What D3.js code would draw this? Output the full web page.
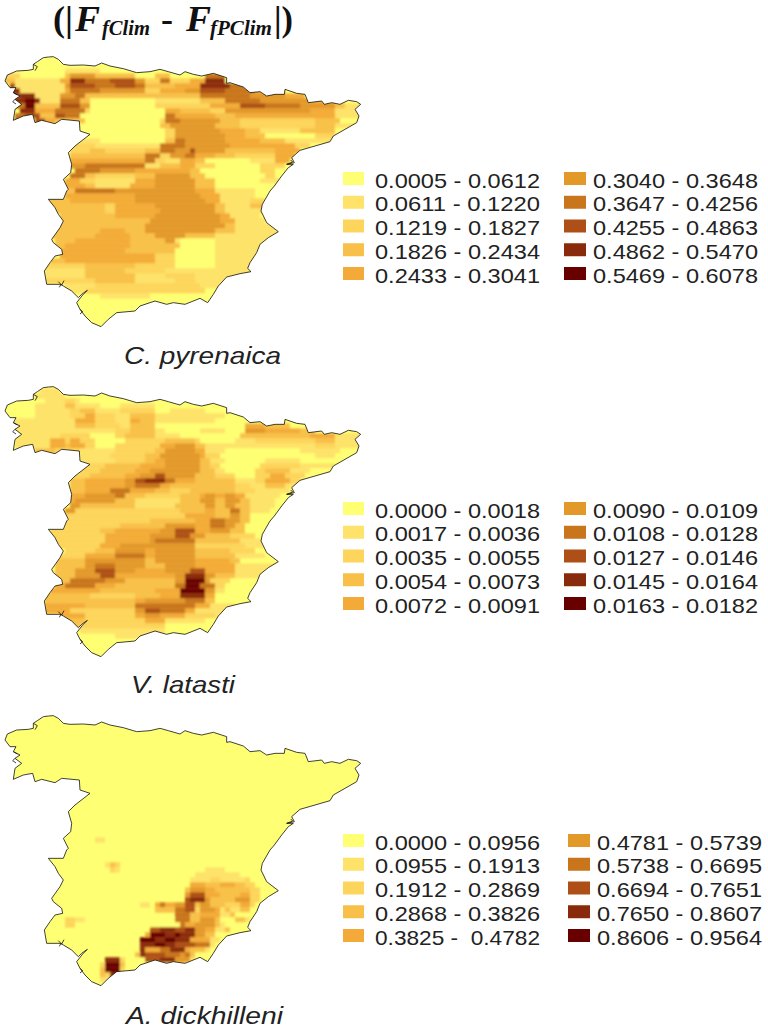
<!DOCTYPE html>
<html>
<head>
<meta charset="utf-8">
<script src="https://cdn.jsdelivr.net/npm/d3@7"></script>
<style>
  html, body { margin: 0; background: #fff; }
  svg { display: block; }
</style>
</head>
<body>
<div id="chart"></div>
<script>
// Class colours, lightest to darkest
const classColors = ["#ffff73", "#fee26a", "#fdd45c", "#f8c04a", "#f3aa38", "#e3982c", "#c8741f", "#ad5012", "#8a2c08", "#690000"];

const speciesNames = ["C. pyrenaica", "V. latasti", "A. dickhilleni"];

const pyrenaicaLabels = [
  "0.0005 - 0.0612", "0.0611 - 0.1220", "0.1219 - 0.1827", "0.1826 - 0.2434", "0.2433 - 0.3041",
  "0.3040 - 0.3648", "0.3647 - 0.4256", "0.4255 - 0.4863", "0.4862 - 0.5470", "0.5469 - 0.6078"
];
const latastiLabels = [
  "0.0000 - 0.0018", "0.0017 - 0.0036", "0.0035 - 0.0055", "0.0054 - 0.0073", "0.0072 - 0.0091",
  "0.0090 - 0.0109", "0.0108 - 0.0128", "0.0127 - 0.0146", "0.0145 - 0.0164", "0.0163 - 0.0182"
];
const dickhilleniLabels = [
  "0.0000 - 0.0956", "0.0955 - 0.1913", "0.1912 - 0.2869", "0.2868 - 0.3826", "0.3825 -  0.4782",
  "0.4781 - 0.5739", "0.5738 - 0.6695", "0.6694 - 0.7651", "0.7650 - 0.8607", "0.8606 - 0.9564"
];

// Outline of the peninsula, in map units
const outline = [
  [15,243],[22,225],[50,213],[85,211],[100,208],[100,193],[112,185],[130,173],[145,171],[160,170],[175,178],[190,193],
  [210,196],[250,195],[285,198],[305,189],[330,198],[370,206],[410,218],[450,215],[480,208],[505,215],[540,225],[555,215],
  [580,223],[605,228],[640,220],[665,228],[680,233],[680,250],[690,248],[730,261],[750,278],[780,275],[800,288],[825,283],
  [853,283],[855,268],[890,280],[915,283],[925,308],[965,303],[973,313],[995,308],[1020,313],[1045,301],[1070,305],[1082,313],
  [1065,328],[1077,348],[1070,368],[1035,388],[1000,408],[990,425],[945,438],[900,451],[875,473],[883,488],[860,493],[880,493],
  [865,503],[845,528],[823,558],[810,573],[787,613],[783,633],[800,668],[835,695],[805,713],[780,733],[770,758],[750,788],
  [743,805],[753,815],[720,821],[680,831],[655,858],[640,883],[623,908],[600,895],[555,913],[520,908],[500,913],[465,903],
  [420,918],[405,933],[350,938],[325,958],[303,980],[275,968],[255,948],[240,928],[230,908],[248,885],[262,871],[245,883],
  [235,893],[215,873],[190,858],[180,853],[140,853],[133,813],[150,788],[165,768],[188,763],[185,748],[160,728],[155,718],
  [180,683],[190,663],[175,643],[165,623],[145,598],[190,598],[200,573],[205,568],[190,538],[212,518],[215,493],[205,458],
  [225,438],[270,403],[240,393],[238,363],[185,358],[165,371],[125,361],[105,368],[98,343],[70,348],[40,361],[45,328],
  [65,313],[45,298],[60,288],[40,278],[48,263],[30,263]
];

// Small inlets drawn over the outline, in map units
const inlets = [
  [[100,193],[112,200],[105,212]],
  [[175,845],[185,855],[192,842]],
  [[183,853],[178,862]],
  [[240,928],[248,935],[240,942]],
  [[45,298],[38,305],[48,312]],
  [[40,278],[52,285]],
  [[860,493],[878,486],[872,480]]
];

// Class runs per grid row: "startColumn:class"
const pyrenaicaRuns = [
  "", "",
  "13:1 20:0",
  "1:2 4:0 13:3 14:5 19:3 27:0 31:3 34:0 41:6 45:0",
  "1:3 3:1 12:4 14:8 17:6 22:7 27:5 29:2 32:6 34:2 38:4 41:8 45:0",
  "2:7 3:1 13:5 14:7 19:6 23:7 27:6 29:3 35:4 40:8 46:6 49:3 51:0",
  "2:8 4:1 13:4 14:6 20:5 29:2 32:4 37:5 40:7 45:6 51:4 57:0",
  "3:7 4:8 7:1 12:5 15:6 17:3 29:3 40:6 50:5 57:4 61:0",
  "3:8 5:9 7:8 8:1 12:6 16:3 18:0 31:1 40:3 45:6 52:5 62:4 67:0",
  "3:6 5:9 7:3 12:7 16:5 18:0 31:2 42:4 48:7 53:6 60:5 67:3 69:1",
  "4:8 7:4 11:6 17:2 18:0 33:4 36:3 42:2 45:5 62:4 67:1",
  "3:6 5:7 8:3 11:7 13:6 16:0 33:6 35:4 43:3 47:4 67:1",
  "3:7 4:0 7:7 9:4 11:3 17:0 32:2 33:6 36:5 44:3 48:2 63:3 68:0",
  "7:1 16:0 32:3 34:5 43:3 48:2 63:3 67:1",
  "16:0 33:2 35:5 44:4 49:3 52:1 60:3 67:0",
  "17:0 33:2 35:5 45:4 49:3 53:0 63:2 67:0",
  "16:1 20:0 33:3 35:6 37:5 45:4 52:3 57:1",
  "14:2 19:1 32:6 37:5 46:4 59:2 62:0",
  "14:2 18:3 21:2 29:3 32:6 35:5 38:7 39:5 45:3 55:4 60:0",
  "14:3 29:6 32:2 34:5 37:6 39:4 43:3 47:2 55:4 59:0",
  "14:4 29:6 31:2 33:1 36:4 39:3 41:0 50:1 55:4 58:0",
  "14:5 17:6 29:1 32:3 36:4 39:2 43:0 52:2 57:0",
  "15:6 20:5 27:4 38:3 40:0 52:2 55:0",
  "14:6 17:3 19:2 27:3 31:5 38:3 41:0 53:2 55:0",
  "13:4 16:2 19:1 27:4 31:5 39:3 43:0 52:1",
  "13:4 17:3 19:1 26:4 31:5 39:3 43:0",
  "13:3 15:6 23:5 39:4 43:1 51:0",
  "13:4 27:5 40:4 44:1 51:0",
  "9:3 14:4 27:5 41:4 44:1 50:2 53:0",
  "10:3 21:2 23:4 31:5 43:3 45:1 50:3 53:0",
  "11:3 21:2 23:4 32:5 43:3 45:1 52:2 54:0",
  "12:3 23:4 31:5 44:4 46:1 52:0",
  "12:3 30:5 44:4 47:1 53:0",
  "11:3 29:5 45:3 47:1",
  "10:3 20:4 25:3 29:5 43:3 47:1",
  "10:3 19:4 26:3 31:5 37:3 43:1",
  "11:3 15:4 26:3 33:5 35:1 36:0 43:1",
  "11:3 13:4 26:3 36:0 43:1",
  "12:4 25:3 35:0 43:1",
  "12:4 31:2 35:0 43:1",
  "10:3 13:4 31:2 35:0 43:1",
  "9:2 17:3 27:2 35:0 43:1",
  "9:1 17:3 25:2 33:1",
  "9:1 17:3 27:1 33:2 39:1",
  "9:2 19:3 27:1 35:2 39:1",
  "13:1 19:2 40:1",
  "13:1 17:2 41:0",
  "20:1 30:0"
];

const latastiRuns = [
  "8:1 12:0",
  "7:1 13:0",
  "9:1 13:2 15:1 16:0",
  "7:1 13:3 15:1 20:0 24:1 31:0",
  "7:1 14:2 16:3 19:1 24:2 31:0 34:1 41:0",
  "7:1 14:2 17:4 19:2 23:1 26:3 31:1 45:0",
  "2:1 15:4 19:2 23:1 26:4 28:3 31:1 43:0",
  "3:1 15:3 19:2 24:1 26:3 31:0 49:4 53:3 58:0",
  "3:1 19:1 23:2 26:3 31:1 33:0 40:1 45:0 49:5 53:4 60:3 63:0",
  "3:1 12:2 18:0 23:2 25:3 31:1 36:0 48:3 62:4 67:1",
  "3:1 10:4 13:2 14:4 16:2 19:0 25:2 33:3 39:2 40:0 47:1 51:2 63:3 67:1",
  "3:1 10:4 13:3 14:4 17:2 19:0 23:2 32:4 35:5 39:3 41:1 63:2 67:1",
  "7:3 11:2 16:1 23:2 31:3 33:5 39:4 41:1 45:0 60:1 68:0",
  "16:1 22:2 29:3 32:5 40:4 41:2 44:0 63:1 67:0",
  "16:1 23:2 29:3 31:4 33:5 40:3 42:1 45:0 53:1 60:0",
  "16:2 21:3 28:4 33:5 40:3 42:2 44:0 52:2 60:1 67:0",
  "16:2 20:3 27:4 30:5 40:3 43:1 45:0 51:2 53:3 58:1 62:0",
  "14:2 18:3 25:4 28:5 31:7 33:5 39:3 43:2 47:0 51:2 54:4 57:2 61:0",
  "14:3 17:4 25:5 27:7 29:8 33:6 35:4 39:3 47:1 51:2 53:4 58:2 60:0",
  "14:3 17:4 25:5 27:6 32:4 34:3 47:2 50:1 53:3 57:1 64:0",
  "14:3 17:4 22:6 26:4 31:3 34:2 38:3 47:2 51:1 58:0",
  "14:4 17:5 23:6 25:3 29:2 36:3 40:4 41:5 43:4 45:5 47:4 49:1 56:0",
  "14:4 15:5 23:3 27:1 36:3 40:5 43:3 45:5 48:3 50:1 55:0",
  "14:5 16:3 27:1 35:3 41:5 43:3 45:5 47:3 50:1 55:0",
  "13:5 15:2 36:3 41:4 43:3 46:6 48:3 50:1 54:0",
  "13:2 37:4 43:3 46:5 48:3 50:0",
  "13:2 30:3 39:4 42:6 45:5 48:3 50:0",
  "13:2 24:3 33:5 39:4 42:6 45:5 47:3 49:0",
  "10:2 20:3 23:4 32:5 35:7 39:4 42:5 46:3 49:0",
  "10:2 21:4 30:5 35:7 38:5 41:3 46:2 51:0",
  "11:2 21:4 30:5 31:6 39:3 48:1 53:0",
  "11:2 20:4 24:5 39:2 49:1 53:0",
  "13:2 19:3 23:5 29:4 31:5 39:3 46:2 51:0",
  "12:2 17:4 23:6 29:4 31:5 39:3 47:1 53:0",
  "11:3 17:5 29:3 31:5 39:4 46:3 48:0",
  "11:3 17:5 19:6 23:5 29:3 33:5 39:4 47:1 56:0",
  "11:3 15:5 19:7 23:5 27:4 33:5 38:7 41:4 47:1 54:0",
  "11:3 15:5 20:7 23:4 35:5 37:8 41:5 43:3 47:1 53:0",
  "11:3 14:6 21:5 25:3 35:5 37:9 41:5 42:2 46:0",
  "11:4 13:6 19:4 23:3 35:6 37:9 40:6 43:2 45:0",
  "10:4 20:3 31:4 36:9 41:5 43:1 45:0",
  "9:3 18:2 27:3 32:4 36:8 41:4 43:0",
  "9:3 27:4 29:5 37:6 41:3 43:0",
  "9:4 17:3 27:6 39:4 42:1 47:0",
  "9:4 14:2 27:5 29:7 32:6 37:4 39:1 46:0",
  "12:4 17:2 27:4 29:5 32:4 37:2 43:1 45:0",
  "13:3 17:2 29:4 33:1 41:0",
  "13:3 16:2 33:0",
  "16:1 33:0",
  "23:1 29:0"
];

const dickhilleniRuns = [
  "", "", "", "", "", "", "", "", "", "", "", "", "", "", "", "", "", "", "", "", "", "", "", "",
  "19:1 21:0",
  "", "", "", "",
  "21:1 22:3 23:2 24:0",
  "22:2 23:1 24:0 41:1 45:0",
  "39:1 48:0",
  "38:1 42:2 44:1 49:2 50:0",
  "38:4 41:3 44:4 47:3 49:2 51:0",
  "37:3 38:5 41:4 43:3 50:2 52:0",
  "37:5 38:7 41:4 44:3 48:4 50:2 52:0",
  "37:7 38:8 41:5 42:3 47:5 50:2 52:0",
  "28:1 30:0 31:4 32:6 33:4 35:5 37:7 39:3 40:5 42:3 45:2 48:4 50:2 51:0",
  "31:3 35:6 37:7 39:2 40:5 43:4 44:1 45:3 46:1 48:3 50:0",
  "35:6 38:3 40:4 44:1 46:3 47:0",
  "13:2 15:1 17:0 35:6 38:3 40:5 43:3 44:0 47:3 49:1 50:0",
  "13:2 15:0 36:6 37:4 39:5 43:3 44:1 45:0",
  "30:7 32:8 35:7 37:8 39:5 41:4 43:1 45:3 46:0",
  "29:4 30:9 33:8 35:9 36:8 39:5 41:3 43:0",
  "28:9 31:8 33:9 35:8 38:4 42:1 44:0",
  "28:8 31:9 33:8 35:7 39:6 42:1 43:0",
  "28:8 29:4 32:6 34:8 37:4 38:3 41:1 42:0",
  "27:3 28:8 29:7 33:6 36:5 37:6 38:3 39:0",
  "21:8 24:2 25:0 29:7 32:8 35:5 38:1 39:0",
  "20:2 21:9 24:3 25:0 30:3 33:2 37:0",
  "20:3 21:9 24:2 25:0",
  "20:3 21:2 22:8 24:1 25:0",
  "20:1 23:0"
];

const cellColumns = 74;
const cellRows = 54;

const width = 768;
const height = 1030;

const svg = d3
  .select("#chart")
  .append("svg")
  .attr("width", width)
  .attr("height", height);

// Map units to pixels
const x = d3.scaleLinear().domain([0, 1110]).range([0, 370]);
const y = d3.scaleLinear().domain([0, 1020]).range([0, 340]);
const col = d3.scaleLinear().domain([0, cellColumns]).range([x(0), x(1110)]);
const row = d3.scaleLinear().domain([0, cellRows]).range([y(175), y(985)]);

const color = d3.scaleOrdinal().domain(d3.range(10)).range(classColors);

const trace = d3
  .line()
  .x((d) => x(d[0]))
  .y((d) => y(d[1]));

const shape = d3
  .line()
  .x((d) => x(d[0]))
  .y((d) => y(d[1]))
  .curve(d3.curveLinearClosed);

const defs = svg.append("defs");
defs.append("clipPath").attr("id", "land").append("path").attr("d", shape(outline));
defs.append("filter").attr("id", "soft").append("feGaussianBlur").attr("stdDeviation", 0.8);
defs.append("filter").attr("id", "softer").append("feGaussianBlur").attr("stdDeviation", 0.4);

// One entry per panel; offset and legend rows in pixels
const panels = [
  { name: speciesNames[0], runs: pyrenaicaRuns, labels: pyrenaicaLabels, dy: 0, legendTop: 178.5, nameY: 364, nameX: 124, nameLen: 157, col2: 593 },
  { name: speciesNames[1], runs: latastiRuns, labels: latastiLabels, dy: 330, legendTop: 508.5, nameY: 693, nameX: 131, nameLen: 104, col2: 593 },
  { name: speciesNames[2], runs: dickhilleniRuns, labels: dickhilleniLabels, dy: 659, legendTop: 840.5, nameY: 1024, nameX: 126, nameLen: 157, col2: 597 }
];

const legendRow = d3.scaleLinear().domain([0, 4]).range([0, 95]);

// "3:7 4:0" -> one segment per run, running on to the next start
function parseRuns(rows) {
  return rows.flatMap((r, i) => {
    if (!r) return [];
    const parts = r.split(" ").map((s) => s.split(":").map(Number));
    return parts.map((p, k) => ({
      i,
      start: p[0],
      end: k + 1 < parts.length ? parts[k + 1][0] : cellColumns,
      c: p[1]
    }));
  });
}

panels.forEach((p) => {
  const g = svg.append("g").attr("transform", `translate(0,${p.dy})`);

  g.append("path").attr("d", shape(outline)).attr("fill", classColors[0]);

  g.append("g")
    .attr("clip-path", "url(#land)")
    .append("g")
    .attr("filter", "url(#soft)")
    .selectAll("rect")
    .data(parseRuns(p.runs))
    .enter()
    .append("rect")
    .attr("x", (d) => col(d.start))
    .attr("y", (d) => row(d.i))
    .attr("width", (d) => col(d.end) - col(d.start))
    .attr("height", row(1) - row(0) + 0.3)
    .attr("fill", (d) => color(d.c));

  g.append("path")
    .attr("d", shape(outline))
    .attr("fill", "none")
    .attr("stroke", "#111")
    .attr("stroke-width", 0.8);

  g.selectAll("path.inlet")
    .data(inlets)
    .enter()
    .append("path")
    .attr("class", "inlet")
    .attr("d", trace)
    .attr("fill", "none")
    .attr("stroke", "#111")
    .attr("stroke-width", 0.8);

  svg
    .append("text")
    .attr("x", p.nameX)
    .attr("y", p.nameY)
    .attr("font-family", "Liberation Sans")
    .attr("font-style", "italic")
    .attr("font-size", 24)
    .attr("textLength", p.nameLen)
    .attr("lengthAdjust", "spacingAndGlyphs")
    .attr("fill", "#222")
    .text(p.name);

  // Legend, two columns of five
  const items = svg
    .append("g")
    .selectAll("g")
    .data(p.labels)
    .enter()
    .append("g")
    .attr("transform", (d, i) => {
      const tx = i < 5 ? 343 : p.col2 - 29;
      return `translate(${tx},${p.legendTop + legendRow(i % 5)})`;
    });

  items
    .append("rect")
    .attr("x", 0)
    .attr("y", -6.5)
    .attr("width", (d, i) => (i < 5 ? 21 : 22))
    .attr("height", 13)
    .attr("filter", "url(#softer)")
    .attr("fill", (d, i) => classColors[i]);

  items
    .append("text")
    .attr("x", (d, i) => (i < 5 ? 32 : 29))
    .attr("y", 9)
    .attr("font-family", "Liberation Sans")
    .attr("font-size", 21)
    .attr("textLength", 165)
    .attr("lengthAdjust", "spacingAndGlyphs")
    .attr("xml:space", "preserve")
    .attr("fill", "#222")
    .text((d) => d);
});

// Title, set piece by piece for the subscripts
const titleFont = "Liberation Serif";
function titlePiece(txt, tx, ty, size, len, italic) {
  svg
    .append("text")
    .attr("x", tx)
    .attr("y", ty)
    .attr("font-family", titleFont)
    .attr("font-weight", "bold")
    .attr("font-style", italic ? "italic" : "normal")
    .attr("font-size", size)
    .attr("textLength", len)
    .attr("lengthAdjust", "spacingAndGlyphs")
    .attr("fill", "#111")
    .text(txt);
}
titlePiece("(|", 53, 31, 36, 20, false);
titlePiece("F", 75, 31, 36, 25, true);
titlePiece("fClim", 102, 35, 20, 48, true);
titlePiece("-", 161, 31, 36, 12, false);
titlePiece("F", 186, 31, 36, 25, true);
titlePiece("fPClim", 210, 35, 20, 62, true);
titlePiece("|)", 274, 31, 36, 19, false);
</script>
</body>
</html>
